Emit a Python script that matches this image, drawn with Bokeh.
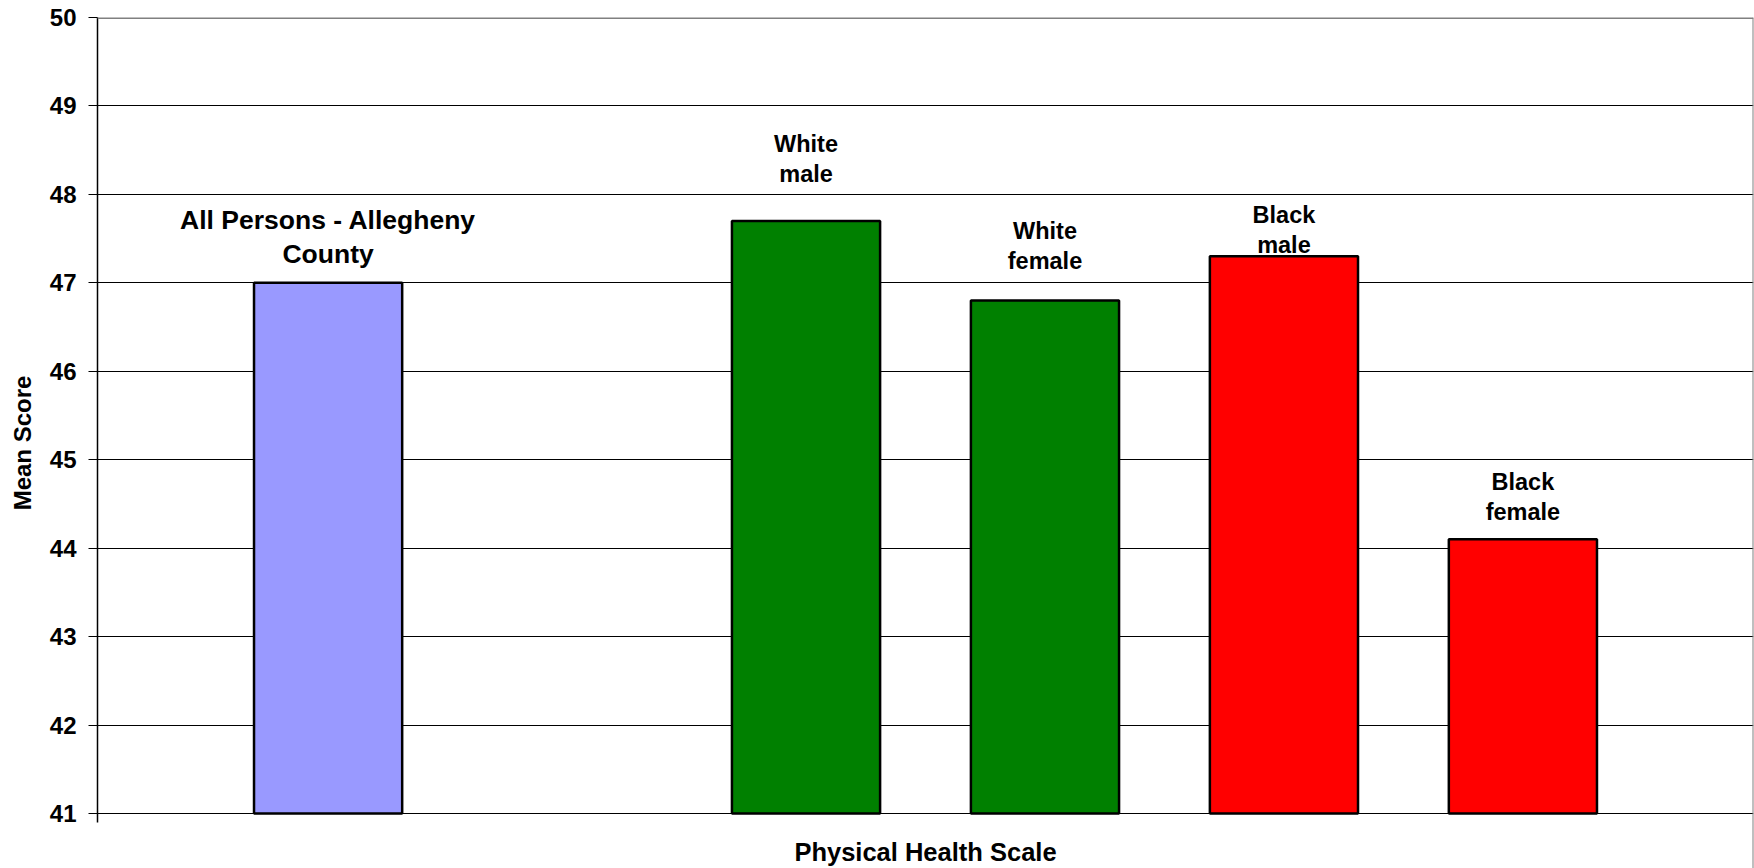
from bokeh.plotting import figure
from bokeh.models import FactorRange, Range1d, FixedTicker, Span, ColumnDataSource
from bokeh.core.properties import value
from bokeh.embed import file_html
from bokeh.resources import INLINE

# ---------------- data ----------------
categories = ["All Persons - Allegheny County", "White male", "White female", "Black male", "Black female"]
label_lines = [["All Persons - Allegheny", "County"], ["White", "male"], ["White", "female"],
               ["Black", "male"], ["Black", "female"]]
values = [47.0, 47.7, 46.8, 47.3, 44.1]
colors = ["#9999FF", "#008000", "#008000", "#FF0000", "#FF0000"]
y_ticks = [41, 42, 43, 44, 45, 46, 47, 48, 49, 50]
y_title = "Mean Score"
x_title = "Physical Health Scale"

# ---------------- layout / style ----------------
W, H = 1754, 868
MB_LEFT, MB_RIGHT, MB_TOP, MB_BOTTOM = 97, 1, 17, 0
base_px = 813.0                      # canvas y of the 41 baseline
ppu = (base_px - MB_TOP) / (y_ticks[-1] - y_ticks[0])
frame_h = H - MB_TOP - MB_BOTTOM
y_lo = y_ticks[-1] - frame_h / ppu
PAD = 0.465
TEXT_SHIFT = 8                       # baseline correction, px

label_gap_px = [20.6, 39, 32, 3, 19.3]     # last baseline above bar top
line_step_px = [34, 30, 30, 30, 30]
label_size = ["26.5px", "23.5px", "23.5px", "23.5px", "23.5px"]
FONT = "Liberation Sans"

factors = [categories[0], " "] + categories[1:]

p = figure(width=W, height=H,
           x_range=FactorRange(factors=factors, range_padding=PAD, range_padding_units="absolute"),
           y_range=Range1d(y_lo, y_ticks[-1]),
           output_backend="svg", toolbar_location=None, x_axis_location=None,
           min_border_left=MB_LEFT, min_border_right=MB_RIGHT,
           min_border_top=MB_TOP, min_border_bottom=MB_BOTTOM)
p.outline_line_color = None
p.background_fill_color = "white"
p.border_fill_color = "white"

# y axis
ax = p.yaxis[0]
ax.ticker = FixedTicker(ticks=y_ticks)
ax.bounds = (y_ticks[0] - 9 / ppu, y_ticks[-1])
ax.axis_line_color = "black"
ax.axis_line_width = 1.5
ax.major_tick_line_color = "black"
ax.major_tick_out = 9
ax.major_tick_in = 0
ax.minor_tick_line_color = None
ax.major_label_standoff = 12
ax.major_label_text_font = FONT
ax.major_label_text_font_style = "bold"
ax.major_label_text_font_size = "24px"
ax.major_label_text_color = "black"
ax.axis_label = y_title
ax.axis_label_text_font = FONT
ax.axis_label_text_font_style = "bold"
ax.axis_label_text_font_size = "24px"
ax.axis_label_text_color = "black"
ax.axis_label_standoff = 11

p.ygrid.ticker = FixedTicker(ticks=y_ticks[:-1])
p.ygrid.grid_line_color = "black"
p.ygrid.grid_line_width = 1
p.xgrid.grid_line_color = None

# borders (top / right)
p.add_layout(Span(location=y_ticks[-1], dimension="width", line_color="#808080", line_width=3))
p.add_layout(Span(location=len(factors) + PAD, dimension="height", line_color="#808080", line_width=2))

# bars
p.vbar(x=categories, top=values, bottom=y_ticks[0], width=0.62,
       fill_color=colors, line_color="black", line_width=2.5)

# labels above bars
lx, ly, lt, ls = [], [], [], []
for cat, v, lines, gap, step, sz in zip(categories, values, label_lines, label_gap_px, line_step_px, label_size):
    n = len(lines)
    for i, t in enumerate(lines):
        off = gap + TEXT_SHIFT + (n - 1 - i) * step
        lx.append(cat)
        ly.append(v + off / ppu)
        lt.append(t)
        ls.append(sz)
src = ColumnDataSource(dict(x=lx, y=ly, text=lt, size=ls))
p.text(x="x", y="y", text="text", source=src, text_font=value(FONT), text_font_style="bold",
       text_font_size="size", text_align="center", text_baseline="alphabetic", text_color="black")

# x axis title (below baseline)
mid = len(factors) / 2
p.text(x=[mid], y=[y_ticks[0] - (859.5 - TEXT_SHIFT - base_px) / ppu], text=[x_title], text_font=value(FONT),
       text_font_style="bold", text_font_size="25.5px", text_align="center",
       text_baseline="alphabetic", text_color="black")

open("out.html", "w").write(file_html(p, INLINE))
